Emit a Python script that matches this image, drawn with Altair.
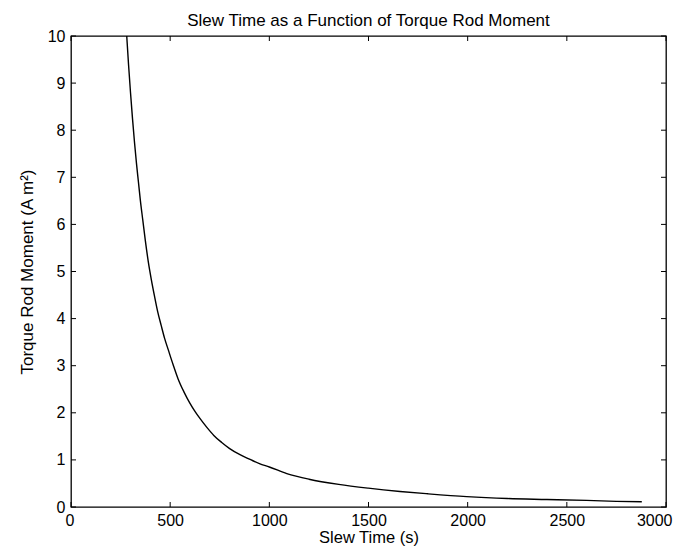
import altair as alt
import pandas as pd

# Data
slew_time = [281, 290, 300, 310, 320, 330, 340, 350, 362, 375, 390, 405, 420, 437, 455,
             472, 491, 515, 540, 570, 600, 625, 650, 685, 720, 760, 800, 852, 903, 950,
             1000, 1088, 1200, 1350, 1499, 1659, 1800, 1995, 2200, 2400, 2600, 2750,
             2878]
moment = [10, 9.4, 8.8, 8.25, 7.75, 7.3, 6.9, 6.5, 6.09, 5.65, 5.2, 4.83, 4.5, 4.15,
          3.85, 3.58, 3.33, 3.02, 2.72, 2.44, 2.2, 2.03, 1.88, 1.69, 1.52, 1.37, 1.24,
          1.11, 1.01, 0.92, 0.85, 0.71, 0.59, 0.48, 0.40, 0.33, 0.28, 0.22, 0.18, 0.16,
          0.14, 0.12, 0.11]
x_ticks = [0, 500, 1000, 1500, 2000, 2500, 3000]
y_ticks = [0, 1, 2, 3, 4, 5, 6, 7, 8, 9, 10]

W, H = 595, 471
TL = 5  # inward tick length (px)
FONT = "Liberation Sans"

df = pd.DataFrame({"t": slew_time, "m": moment})
xt = pd.DataFrame({"t": x_ticks})
yt = pd.DataFrame({"m": y_ticks})

xscale = alt.Scale(domain=[0, 3000], nice=False, zero=False)
yscale = alt.Scale(domain=[0, 10], nice=False, zero=False)

xaxis = alt.Axis(values=x_ticks, ticks=False, domain=False, grid=False,
                 labelPadding=5, format="d", labelFontSize=16, titleFontSize=16.5,
                 titlePadding=1, labelFont=FONT, titleFont=FONT,
                 labelFlush=True, labelFlushOffset=6,
                 titleFontWeight="normal", labelColor="black", titleColor="black")
yaxis = alt.Axis(values=y_ticks, ticks=False, domain=False, grid=False,
                 labelPadding=6, format="d", labelFontSize=16, titleFontSize=17,
                 titlePadding=11, labelFont=FONT, titleFont=FONT,
                 titleFontWeight="normal", labelColor="black", titleColor="black")

XT = "Slew Time (s)"
YT = "Torque Rod Moment (A m²)"

line = alt.Chart(df).mark_line(color="black", strokeWidth=1.4, clip=True,
                               interpolate="monotone").encode(
    x=alt.X("t:Q", scale=xscale, axis=xaxis, title=XT),
    y=alt.Y("m:Q", scale=yscale, axis=yaxis, title=YT),
)

bottom_ticks = alt.Chart(xt).mark_rule(color="black", strokeWidth=1).encode(
    x=alt.X("t:Q", scale=xscale, axis=xaxis, title=XT),
    y=alt.value(H), y2=alt.value(H - TL))
top_ticks = alt.Chart(xt).mark_rule(color="black", strokeWidth=1).encode(
    x=alt.X("t:Q", scale=xscale, axis=xaxis, title=XT),
    y=alt.value(0), y2=alt.value(TL))
left_ticks = alt.Chart(yt).mark_rule(color="black", strokeWidth=1).encode(
    y=alt.Y("m:Q", scale=yscale, axis=yaxis, title=YT),
    x=alt.value(0), x2=alt.value(TL))
right_ticks = alt.Chart(yt).mark_rule(color="black", strokeWidth=1).encode(
    y=alt.Y("m:Q", scale=yscale, axis=yaxis, title=YT),
    x=alt.value(W), x2=alt.value(W - TL))

chart = alt.layer(line, bottom_ticks, top_ticks, left_ticks, right_ticks).properties(
    width=W, height=H,
    title=alt.TitleParams("Slew Time as a Function of Torque Rod Moment",
                          font=FONT, fontSize=17, fontWeight="normal", color="black",
                          anchor="middle", offset=-2),
    autosize=alt.AutoSizeParams(type="none"),
    padding={"left": 63, "top": 28, "right": 9, "bottom": 40},
    background="white",
).configure_view(stroke="black", strokeWidth=1.3)

chart.save("out.html", embed_options={"renderer": "svg", "actions": False})
